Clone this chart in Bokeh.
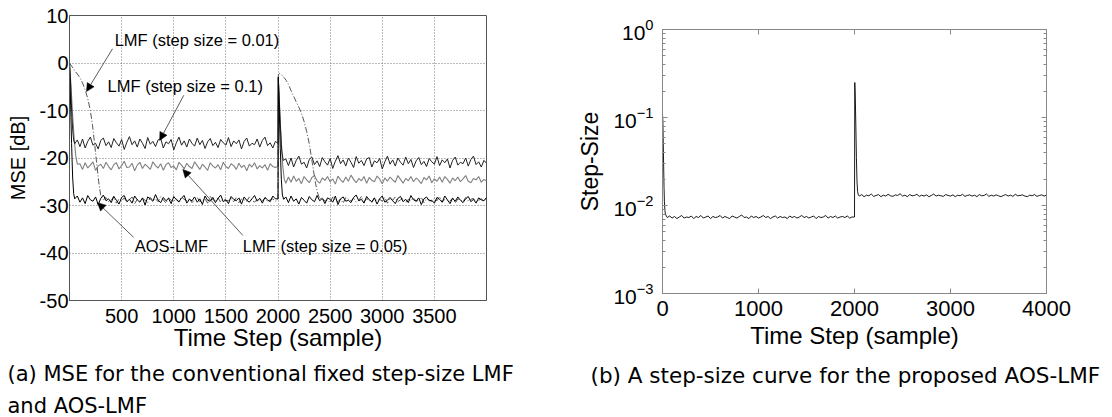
import numpy as np
from bokeh.plotting import figure
from bokeh.models import (Range1d, FixedTicker, Label, Arrow, NormalHead, Title,
                          LinearAxis, LogAxis)
from bokeh.embed import file_html
from bokeh.resources import INLINE

# ------------------------------------------------------------------
# (a) MSE curves  (x: time step, y: MSE in dB)
# ------------------------------------------------------------------
x_ticks_a = [500, 1000, 1500, 2000, 2500, 3000, 3500]
y_ticks_a = [-50, -40, -30, -20, -10, 0, 10]

# LMF, step size 0.1
mu01_x1 = [0, 8, 16, 24, 32, 40, 50]
mu01_y1 = [0, -3, -7.5, -11.5, -14.5, -16.2, -17.0]
mu01_ss1 = [-16.2,-17.6,-16.0,-17.9,-16.5,-15.6,-17.3,-16.9,-18.1,-16.3,
            -15.8,-17.4,-16.6,-17.8,-15.9,-16.8,-17.5,-16.1,-18.2,-16.7,
            -15.5,-17.2,-16.4,-17.7,-16.0,-16.9,-18.0,-15.7,-17.1,-16.5,
            -17.6,-16.2,-15.9,-17.9,-16.6,-17.0,-16.1,-18.3,-16.8,-15.6,
            -17.3,-16.4,-17.7,-16.0,-16.9,-17.5,-15.8,-17.2,-16.3,-18.0,
            -16.6,-15.9,-17.4,-16.7,-17.8,-16.1,-16.8,-17.3,-15.7,-17.6,
            -16.4,-17.0,-16.2,-18.1,-16.5,-15.8,-17.5,-16.9,-17.2,-16.0,
            -17.7,-16.3,-15.6,-17.4,-16.8,-17.9,-16.5]
mu01_x2 = [2000, 2003, 2012, 2024, 2036, 2050]
mu01_y2 = [-16.9, -3.0, -8.0, -14.0, -18.5, -20.5]
mu01_ss2 = [-20.2,-21.6,-20.0,-21.9,-20.5,-19.6,-21.3,-20.9,-22.1,-20.3,
            -19.8,-21.4,-20.6,-21.8,-19.9,-20.8,-21.5,-20.1,-22.2,-20.7,
            -19.5,-21.2,-20.4,-21.7,-20.0,-20.9,-22.0,-19.7,-21.1,-20.5,
            -21.6,-20.2,-19.9,-21.9,-20.6,-21.0,-20.1,-22.3,-20.8,-19.6,
            -21.3,-20.4,-21.7,-20.0,-20.9,-21.5,-19.8,-21.2,-20.3,-22.0,
            -20.6,-19.9,-21.4,-20.7,-21.8,-20.1,-20.8,-21.3,-19.7,-21.6,
            -20.4,-21.0,-20.2,-22.1,-20.5,-19.8,-21.5,-20.9,-21.2,-20.0,
            -21.7,-20.3,-19.6,-21.4,-20.8,-21.9,-20.5,-21.1]

# LMF, step size 0.05
mu005_x1 = [0, 15, 30, 45, 60, 75]
mu005_y1 = [0, -5, -11, -16, -19.5, -21.3]
mu005_ss1 = [-21.2,-22.4,-21.0,-22.1,-21.5,-20.8,-22.6,-21.7,-21.3,-22.2,
             -20.9,-21.8,-22.5,-21.4,-21.0,-22.3,-21.6,-20.7,-22.0,-21.9,
             -21.1,-22.7,-21.5,-20.9,-22.2,-21.3,-21.8,-22.4,-20.8,-21.6,
             -22.1,-21.2,-22.6,-21.4,-21.0,-22.0,-21.7,-22.5,-20.9,-21.5,
             -22.3,-21.1,-21.8,-22.2,-20.8,-21.6,-22.4,-21.3,-21.9,-22.6,
             -21.0,-21.7,-22.1,-21.4,-22.5,-20.9,-21.8,-22.2,-21.2,-21.6,
             -22.4,-21.1,-22.0,-21.5,-22.7,-21.3,-21.9,-21.0,-22.3,-21.6,
             -22.1,-21.4,-22.6,-21.2,-21.8,-22.0]
mu005_x2 = [2000, 2003, 2015, 2030, 2045, 2060, 2075]
mu005_y2 = [-21.8, -3.5, -9.0, -16.0, -21.5, -24.5, -25.3]
mu005_ss2 = [-24.0,-25.1,-23.8,-24.9,-24.3,-25.4,-23.9,-24.6,-25.2,-24.1,
             -23.7,-24.8,-25.3,-24.2,-24.7,-23.9,-25.0,-24.4,-25.5,-23.8,
             -24.6,-25.1,-24.0,-24.9,-23.6,-24.5,-25.2,-24.3,-24.8,-23.9,
             -25.3,-24.1,-24.7,-25.0,-23.8,-24.4,-25.4,-24.2,-24.9,-24.0,
             -24.6,-25.1,-23.7,-24.5,-25.3,-24.3,-24.8,-23.9,-25.0,-24.2,
             -24.7,-25.4,-24.1,-24.6,-23.8,-25.2,-24.4,-24.9,-24.0,-25.1,
             -23.9,-24.5,-25.3,-24.2,-24.8,-24.0,-25.0,-24.4,-23.7,-24.9,
             -25.2,-24.3,-24.6,-23.9,-25.1,-24.5,-24.8]

# LMF, step size 0.01
mu001_x1 = [0, 25, 50, 75, 100, 125, 150, 175, 200, 220, 240, 260, 280, 300, 325]
mu001_y1 = [0, -0.8, -1.6, -2.3, -3.1, -4.2, -5.6, -7.5, -10.0, -13.0, -16.8,
            -21.0, -25.0, -28.0, -28.8]
mu001_ss1 = [-28.3,-29.2,-28.9,-28.1,-29.5,-28.6,-29.0,-28.4,-29.3,-28.8,
             -28.2,-29.6,-28.7,-29.1,-28.5,-28.9,-29.4,-28.3,-29.0,-28.6,
             -29.2,-28.1,-28.8,-29.5,-28.4,-28.9,-29.1,-28.6,-29.3,-28.2,
             -28.7,-29.0,-28.5,-29.4,-28.8,-28.3,-29.2,-28.9,-28.6,-29.5,
             -28.1,-28.8,-29.1,-28.4,-29.3,-28.7,-28.9,-29.0,-28.5,-29.2,
             -28.3,-29.4,-28.6,-28.8,-29.1,-28.2,-28.9,-29.3,-28.7,-28.5,
             -29.0,-28.4,-29.2,-28.8,-28.6,-29.1]
mu001_x2 = [2000, 2003, 2015, 2030, 2045, 2060, 2080, 2100, 2125, 2150, 2175,
            2200, 2225, 2250, 2275, 2300, 2320, 2340, 2360, 2380, 2400]
mu001_y2 = [-28.7, -2.5, -2.2, -2.4, -2.8, -3.1, -3.7, -4.5, -5.8, -7.0, -8.2,
            -9.3, -10.6, -12.3, -14.4, -17.0, -19.8, -22.6, -25.3, -27.4, -28.6]
mu001_ss2 = [-28.4,-29.1,-28.8,-29.4,-28.2,-28.9,-29.2,-28.6,-29.5,-28.3,
             -28.7,-29.0,-28.5,-29.3,-28.9,-28.1,-29.2,-28.6,-28.8,-29.4,
             -28.4,-29.0,-28.7,-29.1,-28.3,-29.5,-28.6,-28.9,-28.2,-29.2,
             -28.8,-28.5,-29.3,-28.7,-29.0,-28.4,-29.1,-28.9,-28.3,-29.4,
             -28.6,-28.8,-29.2,-28.5,-29.0,-28.1,-29.3,-28.7,-28.9,-29.1,
             -28.4,-29.5,-28.6,-28.8,-29.2,-28.3,-29.0,-28.7,-28.5,-29.3,
             -28.9,-28.6,-29.1,-28.4]

# AOS-LMF
aos_x1 = [0, 10, 20, 30, 40, 50]
aos_y1 = [-0.5, -8.0, -17.0, -24.0, -27.5, -28.6]
aos_ss1 = [-28.0,-29.3,-28.4,-29.6,-27.9,-28.8,-29.1,-28.2,-29.8,-28.5,
           -27.8,-29.0,-28.6,-29.4,-28.1,-28.9,-29.7,-28.3,-27.9,-29.2,
           -28.7,-29.5,-28.0,-28.8,-29.3,-28.4,-29.9,-28.2,-28.6,-29.1,
           -27.7,-28.9,-29.4,-28.3,-29.0,-28.5,-29.6,-28.1,-28.8,-29.2,
           -28.4,-27.9,-29.5,-28.7,-29.0,-28.2,-29.3,-28.6,-29.8,-28.0,
           -28.9,-29.1,-28.3,-29.4,-28.5,-27.8,-29.2,-28.8,-29.6,-28.1,
           -28.7,-29.0,-28.4,-29.7,-28.2,-28.9,-29.3,-28.6,-27.9,-29.1,
           -28.5,-29.5,-28.3,-28.8,-29.2,-28.0,-28.6]
aos_x2 = [2000, 2003, 2012, 2022, 2032, 2042, 2055]
aos_y2 = [-28.6, -3.0, -10.0, -18.0, -24.5, -27.8, -28.7]
aos_ss2 = [-28.2,-29.4,-28.0,-29.1,-28.6,-29.7,-28.3,-28.9,-29.5,-28.1,
           -28.8,-29.2,-27.9,-29.0,-28.5,-29.6,-28.4,-28.7,-29.3,-28.0,
           -29.8,-28.6,-28.2,-29.1,-28.9,-29.4,-28.3,-27.8,-29.0,-28.7,
           -29.5,-28.1,-28.8,-29.2,-28.4,-29.7,-28.6,-28.0,-29.3,-28.9,
           -28.3,-29.0,-29.6,-28.5,-28.1,-29.2,-28.7,-29.4,-27.9,-28.8,
           -29.1,-28.4,-29.8,-28.6,-28.2,-29.0,-28.9,-29.5,-28.3,-28.7,
           -29.3,-28.0,-28.8,-29.6,-28.5,-29.1,-28.2,-28.9,-29.4,-28.6,
           -28.1,-29.2,-28.7,-29.5,-28.4,-28.8,-29.0,-28.3]

# annotations (data coordinates)
ann_texts = ["LMF (step size = 0.01)", "LMF (step size = 0.1)",
             "AOS-LMF", "LMF (step size = 0.05)"]
ann_text_x = [433, 365, 625, 1663]
ann_text_y = [4.9, -4.9, -38.6, -38.6]
ann_arrow_start = [(413, 3.0), (1096, -6.8), (615, -36.7), (1663, -36.3)]
ann_arrow_end = [(163, -6.0), (865, -16.3), (269, -29.4), (1087, -22.4)]

# ------------------------------------------------------------------
# (b) step-size curve of AOS-LMF
# ------------------------------------------------------------------
x_ticks_b = [0, 1000, 2000, 3000, 4000]
y_ticks_b = [1e-3, 1e-2, 1e-1, 1e0]
step_x1 = [0, 4, 8, 12, 16, 20, 25, 30, 40]
step_y1 = [0.11, 0.09, 0.05, 0.028, 0.016, 0.011, 0.0088, 0.0080, 0.0076]
step_ss1 = [0.0073,0.0076,0.0072,0.0075,0.0071,0.0074,0.0077,0.0072,0.0074,0.0073,
            0.0076,0.0071,0.0075,0.0073,0.0077,0.0072,0.0074,0.0076,0.0071,0.0075,
            0.0073,0.0074,0.0077,0.0072,0.0075,0.0073,0.0071,0.0076,0.0074,0.0072,
            0.0075,0.0078,0.0073,0.0074,0.0071,0.0076,0.0073,0.0075,0.0072,0.0074,
            0.0077,0.0073,0.0075,0.0071,0.0074,0.0076,0.0072,0.0075,0.0073,0.0074,
            0.0071,0.0076,0.0073,0.0075,0.0072,0.0074,0.0077,0.0073,0.0075,0.0072,
            0.0074,0.0076,0.0071,0.0075,0.0073,0.0074,0.0077,0.0072,0.0075,0.0073,
            0.0076,0.0072,0.0074,0.0075,0.0073,0.0076,0.0072,0.0074]
step_x2 = [2000, 2003, 2008, 2014, 2020, 2026, 2032, 2040]
step_y2 = [0.0074, 0.25, 0.17, 0.08, 0.035, 0.019, 0.0145, 0.0132]
step_ss2 = [0.0128,0.0133,0.0126,0.0131,0.0129,0.0135,0.0127,0.0130,0.0133,0.0126,
            0.0131,0.0128,0.0134,0.0129,0.0127,0.0132,0.0130,0.0136,0.0128,0.0131,
            0.0126,0.0133,0.0129,0.0130,0.0134,0.0127,0.0131,0.0128,0.0132,0.0126,
            0.0130,0.0135,0.0128,0.0131,0.0129,0.0127,0.0133,0.0130,0.0128,0.0132,
            0.0126,0.0131,0.0129,0.0134,0.0127,0.0130,0.0132,0.0128,0.0131,0.0126,
            0.0133,0.0129,0.0130,0.0135,0.0127,0.0131,0.0128,0.0132,0.0129,0.0126,
            0.0130,0.0133,0.0128,0.0131,0.0127,0.0134,0.0129,0.0130,0.0132,0.0128,
            0.0126,0.0131,0.0129,0.0133,0.0127,0.0130,0.0132,0.0128,0.0131]

STEP = 25


def series(x1, y1, ss1, start1, x2, y2, ss2, start2):
    xs1 = np.arange(start1, 2000, STEP)
    xs2 = np.arange(start2, 4001, STEP)
    assert len(xs1) == len(ss1) and len(xs2) == len(ss2), (len(xs1), len(ss1), len(xs2), len(ss2))
    x = np.concatenate([x1, xs1, x2, xs2])
    y = np.concatenate([y1, ss1, y2, ss2])
    return x, y


FONT = "Liberation Sans"
CAP_FONT = "DejaVu Sans"

# ---------------------------- panel (a) ----------------------------
p1 = figure(frame_width=417, frame_height=285,
            x_range=Range1d(0, 4000), y_range=Range1d(-50, 10),
            min_border_left=69, min_border_right=74, min_border_top=15,
            min_border_bottom=0, output_backend="svg", toolbar_location=None)
p1.title.visible = False
xa, ya = p1.xaxis[0], p1.yaxis[0]
xa.ticker = FixedTicker(ticks=x_ticks_a)
ya.ticker = FixedTicker(ticks=y_ticks_a)
ya.major_label_overrides = {v: str(v) for v in y_ticks_a}
p1.grid.grid_line_color = "#777777"
p1.grid.grid_line_dash = "1 2"
p1.grid.grid_line_width = 1
p1.outline_line_color = "#555555"
for ax in (xa, ya):
    ax.axis_line_color = "#555555"
    ax.major_tick_in = 0
    ax.major_tick_out = 0
    ax.minor_tick_in = 0
    ax.minor_tick_out = 0
    ax.major_label_text_font = FONT
    ax.major_label_text_font_size = "20px"
    ax.major_label_text_color = "black"
    ax.axis_label_text_font = FONT
    ax.axis_label_text_font_style = "normal"
    ax.axis_label_text_color = "black"
xa.axis_label = "Time Step (sample)"
xa.axis_label_text_font_size = "24px"
xa.major_label_standoff = 8
xa.axis_label_standoff = -2
ya.axis_label = "MSE [dB]"
ya.axis_label_text_font_size = "20px"
ya.major_label_standoff = 1
ya.axis_label_standoff = 8

x, y = series(mu005_x1, mu005_y1, mu005_ss1, 100, mu005_x2, mu005_y2, mu005_ss2, 2100)
p1.line(x, y, line_color="#808080", line_width=1.1)
x, y = series(mu01_x1, mu01_y1, mu01_ss1, 75, mu01_x2, mu01_y2, mu01_ss2, 2075)
p1.line(x, y, line_color="#222222", line_width=1.0)
x, y = series(mu001_x1, mu001_y1, mu001_ss1, 350, mu001_x2, mu001_y2, mu001_ss2, 2425)
p1.line(x, y, line_color="#555555", line_width=1.0, line_dash="6 2 1 2")
x, y = series(aos_x1, aos_y1, aos_ss1, 75, aos_x2, aos_y2, aos_ss2, 2075)
p1.line(x, y, line_color="black", line_width=1.0)

for t, tx, ty, (sx, sy), (ex, ey) in zip(ann_texts, ann_text_x, ann_text_y,
                                         ann_arrow_start, ann_arrow_end):
    p1.add_layout(Label(x=tx, y=ty, text=t, text_font=FONT, text_font_size="16.5px",
                        text_baseline="middle", text_align="left", text_color="black"))
    p1.add_layout(Arrow(x_start=sx, y_start=sy, x_end=ex, y_end=ey,
                        line_color="#333333", line_width=0.8,
                        end=NormalHead(size=8, fill_color="black", line_color="black",
                                       line_width=0.5)))

cap_a1 = Title(text="(a) MSE for the conventional fixed step-size LMF", align="left",
               offset=-62, text_font=CAP_FONT, text_font_size="21px",
               text_font_style="normal", text_color="black", standoff=12)
cap_a2 = Title(text="and AOS-LMF", align="left", offset=-62, text_font=CAP_FONT,
               text_font_size="21px", text_font_style="normal", text_color="black",
               standoff=0)
p1.add_layout(cap_a1, "below")
p1.add_layout(cap_a2, "below")

# ---------------------------- panel (b) ----------------------------
p2 = figure(frame_width=384, frame_height=264, y_axis_type="log",
            x_range=Range1d(0, 4000), y_range=Range1d(1e-3, 1),
            min_border_left=102, min_border_right=58, min_border_top=29,
            min_border_bottom=0, output_backend="svg", toolbar_location=None)
p2.title.visible = False
p2.grid.visible = False
p2.outline_line_color = "#888888"
xb, yb = p2.xaxis[0], p2.yaxis[0]
minor_b = [m * 10.0 ** e for e in (-3, -2, -1) for m in range(2, 10)]
xb.ticker = FixedTicker(ticks=x_ticks_b)
yb.ticker = FixedTicker(ticks=y_ticks_b, minor_ticks=minor_b)
top_ax = LinearAxis(ticker=FixedTicker(ticks=x_ticks_b))
right_ax = LogAxis(ticker=FixedTicker(ticks=y_ticks_b, minor_ticks=minor_b))
p2.add_layout(top_ax, "above")
p2.add_layout(right_ax, "right")
for ax in (xb, yb, top_ax, right_ax):
    ax.axis_line_color = "#888888"
    ax.major_tick_line_color = "#888888"
    ax.minor_tick_line_color = "#888888"
    ax.major_tick_in = 5
    ax.major_tick_out = 0
    ax.minor_tick_in = 3
    ax.minor_tick_out = 0
    ax.major_label_text_font = FONT
    ax.major_label_text_color = "black"
    ax.axis_label_text_font = FONT
    ax.axis_label_text_font_style = "normal"
    ax.axis_label_text_color = "black"
for ax in (top_ax, right_ax):
    ax.major_label_text_font_size = "6px"
    ax.major_label_text_alpha = 0
    ax.major_label_standoff = 0
xb.major_label_text_font_size = "22px"
yb.major_label_text_font_size = "21px"
xb.axis_label = "Time Step (sample)"
xb.axis_label_text_font_size = "24px"
xb.major_label_standoff = 7
xb.axis_label_standoff = 3
yb.axis_label = "Step-Size"
yb.axis_label_text_font_size = "23px"
yb.major_label_standoff = 9
yb.axis_label_standoff = 7

x, y = series(step_x1, step_y1, step_ss1, 50, step_x2, step_y2, step_ss2, 2050)
p2.line(x, y, line_color="black", line_width=0.9)

cap_b = Title(text="(b) A step-size curve for the proposed AOS-LMF", align="left",
              offset=-72, text_font=CAP_FONT, text_font_size="21.5px",
              text_font_style="normal", text_color="black", standoff=18)
p2.add_layout(cap_b, "below")

PAGE = """
{% block contents %}
{% from macros import embed %}
<style>
html, body { margin: 0 !important; padding: 0 !important; overflow: hidden !important; }
</style>
<div style="display: flex; flex-direction: row; align-items: flex-start; padding: 0;">
{% for doc in docs %}{% for root in doc.roots %}{{ embed(root) }}{% endfor %}{% endfor %}
</div>
{% endblock %}
"""

open("out.html", "w").write(file_html([p1, p2], INLINE, template=PAGE))
